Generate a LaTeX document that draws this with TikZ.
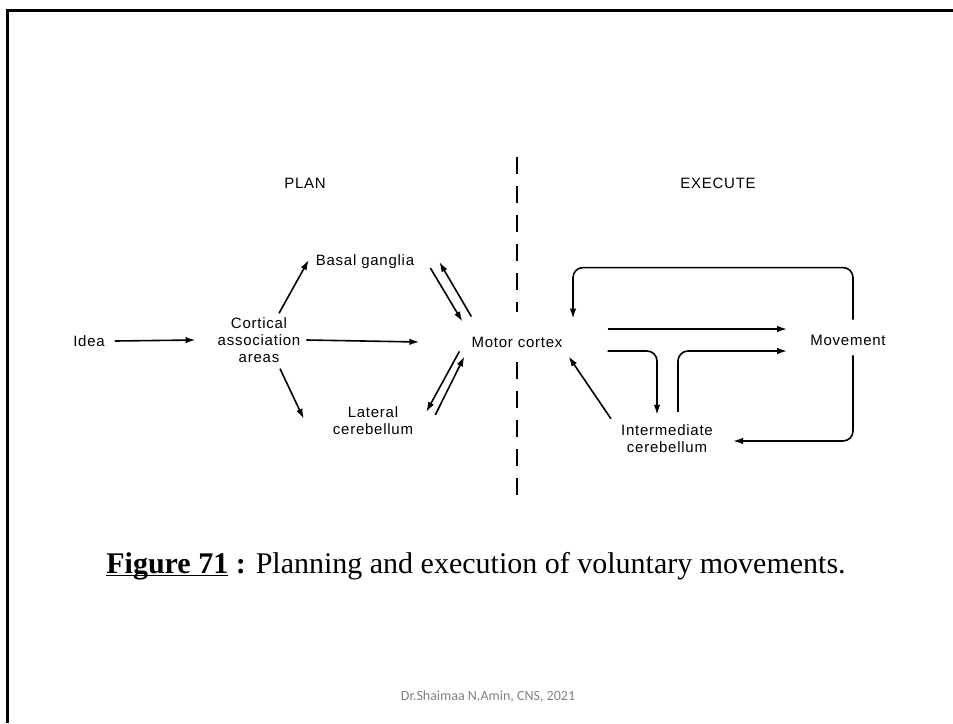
\documentclass[tikz,border=0pt]{standalone}
\usepackage{fontspec}
\setmainfont{Liberation Serif}
\newfontfamily\labelfont[LetterSpace=5]{Liberation Sans}
\newfontfamily\footfont{Carlito}
\usetikzlibrary{positioning,arrows.meta}
\newcommand\figUline[1]{\setbox0\hbox{#1}\rlap{\rule[-3pt]{\wd0}{1.6pt}}\box0\relax}

\begin{document}
\begin{tikzpicture}[x=1pt,y=-1pt,
  arr/.style={-{Latex[length=10pt,width=6.5pt]},line width=1.6pt},
  divider/.style={line width=2.6pt,dash pattern=on 17pt off 12pt},
  ]
  \useasboundingbox (0,0) rectangle (953,723);
  \draw[line width=3pt] (7.5,723) -- (7.5,10.5) -- (953,10.5);
  \begin{scope}[every node/.style={
      font=\labelfont\fontsize{15}{17}\selectfont,
      align=center,
      inner sep=2pt,
    }]
    \node (headPlan) at (305,183) {PLAN};
    \node (headExec) at (718,183) {EXECUTE};
    \node (diagIdea) at (89,341) {Idea};
    \node (diagAssoc) at (259,340) {Cortical\\association\\areas};
    \node (diagBasal) at (365,262) {Basal ganglia};
    \node (diagLateral) at (373,421) {Lateral\\cerebellum};
    \node (diagMotor) at (517,342) {Motor cortex};
    \node (diagMove) at (848,340) {Movement};
    \node (diagInter) at (667,439) {Intermediate\\cerebellum};
  \end{scope}
  % dashed border between plan and execute
  \draw[divider] (517,157) -- (517,312);
  \draw[divider] (517,362) -- (517,496);
  \begin{scope}[every path/.style={draw,arr}]
    % plan side
    \path ([xshift=8pt]diagIdea.east) -- ([xshift=-20pt]diagAssoc.west);
    \path ([xshift=4pt]diagAssoc.east) -- ([xshift=-50pt]diagMotor.west);
    \path ([xshift=20pt,yshift=2pt]diagAssoc.north) -- ([xshift=-5pt,yshift=2pt]diagBasal.west);
    \path ([xshift=21pt,yshift=-4pt]diagAssoc.south) -- ([xshift=-27pt,yshift=-14pt]diagLateral.north west);
    \path ([xshift=14pt,yshift=-6pt]diagBasal.east) -- ([xshift=-7pt,yshift=13pt]diagMotor.north west);
    \path ([xshift=2pt,yshift=18pt]diagMotor.north west) -- ([xshift=23pt]diagBasal.east);
    \path ([xshift=-10pt,yshift=-2pt]diagMotor.south west) -- ([xshift=11pt,yshift=9pt]diagLateral.east);
    \path ([xshift=20pt,yshift=6pt]diagLateral.east) -- ([xshift=-5pt,yshift=-7pt]diagMotor.south west);
    % execute side
    \path[rounded corners=10pt] ([xshift=5pt,yshift=13pt]diagMove.north) -- ++(0,-52) -| ([xshift=56pt,yshift=16pt]diagMotor.north);
    \path ([xshift=43pt,yshift=13pt]diagMotor.east) -- ([xshift=-21pt,yshift=11pt]diagMove.west);
    \path[rounded corners=10pt] ([xshift=43pt,yshift=-9pt]diagMotor.east) -| ([xshift=-10pt,yshift=8pt]diagInter.north);
    \path[rounded corners=10pt] ([xshift=11pt,yshift=11pt]diagInter.north) |- ([xshift=-21pt,yshift=-11pt]diagMove.west);
    \path ([xshift=-8pt,yshift=4pt]diagInter.north west) -- ([xshift=4pt,yshift=-7pt]diagMotor.south east);
    \path[rounded corners=10pt] ([xshift=5pt,yshift=-8pt]diagMove.south) |- ([xshift=18pt,yshift=-2pt]diagInter.east);
  \end{scope}
  \node[font=\fontsize{30}{34}\selectfont] (caption) at (476,566)
    {\figUline{\textbf{Figure 71}} \textbf{:} Planning and execution of voluntary movements.};
  \node[font=\footfont\fontsize{14}{16}\selectfont,text=black!50] (footer) at (488,697)
    {Dr.Shaimaa N.Amin, CNS, 2021};
\end{tikzpicture}
\end{document}
